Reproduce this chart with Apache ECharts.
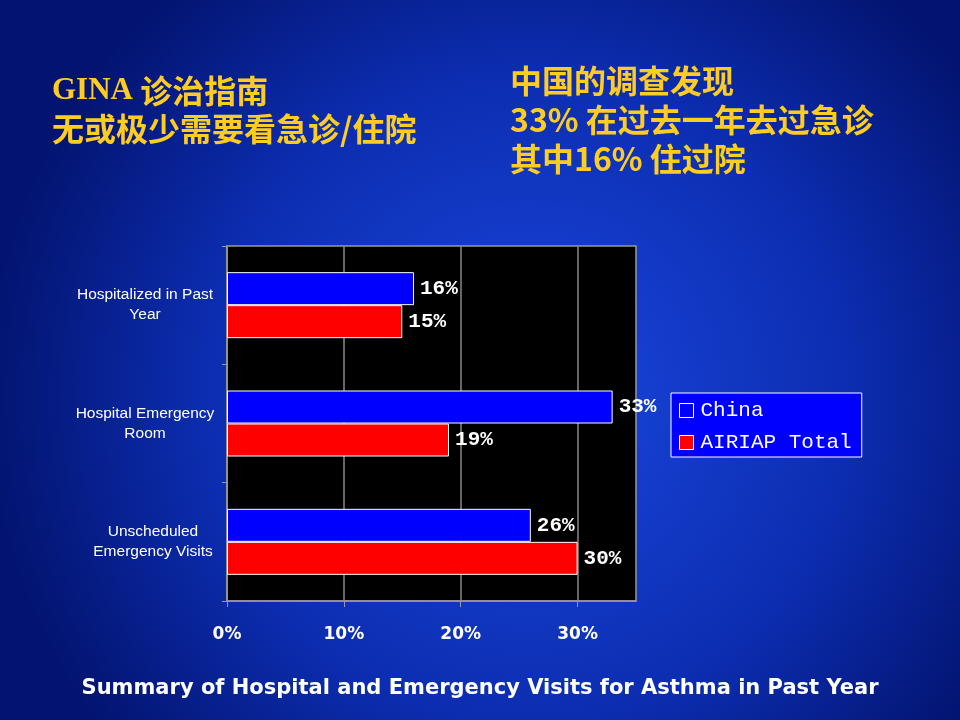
<!DOCTYPE html>
<html lang="zh">

<head>
    <meta charset="UTF-8">
    <title>Hospital and Emergency Visits</title>
    <style>
        html, body {
            margin: 0;
            padding: 0;
        }
        #box {
            width: 960px;
            height: 720px;
        }
    </style>
    <script src="https://cdn.jsdelivr.net/npm/echarts@6/dist/echarts.min.js"></script>
</head>

<body>
    <div id="box"></div>
    <script>
        // 数据
        const categories = ['Hospitalized in Past\nYear', 'Hospital Emergency\nRoom', 'Unscheduled\nEmergency Visits'];
        const seriesNames = ['China', 'AIRIAP Total'];
        const china = [16, 33, 26];
        const airiap = [15, 19, 30];
        const xTicks = [0, 10, 20, 30];

        (function () {
            const yellow = '#ffcc22';
            const cjk = '"Noto Sans CJK SC", sans-serif';

            function barSeries(name, data, color) {
                return {
                    name: name,
                    type: 'bar',
                    data: data,
                    barWidth: 33,
                    barGap: '0%',
                    itemStyle: { color: color, borderColor: '#fff', borderWidth: 1 },
                    label: {
                        show: true,
                        position: 'right',
                        distance: 6,
                        formatter: '{c}%',
                        color: '#fff',
                        fontSize: 21,
                        fontWeight: 'bold',
                        fontFamily: '"Liberation Mono", monospace'
                    }
                };
            }

            let option = {
                backgroundColor: new echarts.graphic.RadialGradient(0.55, 0.55, 0.75, [
                    { offset: 0, color: '#1a48e0' },
                    { offset: 0.6, color: '#0c2db0' },
                    { offset: 1, color: '#031470' }
                ]),
                title: [
                    {
                        text: '{en|GINA} 诊治指南\n无或极少需要看急诊/住院',
                        left: 52, top: 72,
                        padding: 0,
                        textStyle: {
                            color: yellow, fontSize: 32, fontWeight: 'bold', fontFamily: cjk, lineHeight: 38,
                            rich: {
                                en: { color: yellow, fontSize: 31, fontFamily: '"Liberation Serif", serif', lineHeight: 38 }
                            }
                        }
                    },
                    {
                        text: '中国的调查发现\n33% 在过去一年去过急诊\n其中16% 住过院',
                        left: 510, top: 61,
                        padding: 0,
                        textStyle: { color: yellow, fontSize: 32, fontWeight: 'bold', fontFamily: cjk, lineHeight: 39 }
                    },
                    {
                        text: 'Summary of Hospital and Emergency Visits for Asthma in Past Year',
                        left: 'center', top: 673,
                        textStyle: { color: '#fff', fontSize: 21, fontWeight: 'bold', fontFamily: '"DejaVu Sans", sans-serif' }
                    }
                ],
                legend: {
                    data: seriesNames,
                    orient: 'vertical',
                    left: 671, top: 393,
                    padding: [7, 10, 4, 8],
                    itemGap: 11,
                    backgroundColor: '#0000ff',
                    borderColor: '#fff',
                    borderWidth: 1,
                    borderRadius: 0,
                    icon: 'rect',
                    itemWidth: 14,
                    itemHeight: 14,
                    itemStyle: { borderColor: '#fff', borderWidth: 1 },
                    textStyle: { color: '#fff', fontSize: 21, fontFamily: '"Liberation Mono", monospace', padding: [0, 0, 0, 2] }
                },
                grid: {
                    left: 227, top: 246, width: 409, height: 355,
                    show: true,
                    backgroundColor: '#000',
                    borderColor: '#999',
                    borderWidth: 1.5
                },
                xAxis: {
                    type: 'value',
                    min: 0, max: 35, interval: 10,
                    axisLine: { show: true, lineStyle: { color: '#999', width: 1.5 } },
                    axisTick: { show: true, length: 6, lineStyle: { color: '#999' }, customValues: xTicks },
                    splitLine: { show: true, lineStyle: { color: '#888', width: 1.5 } },
                    axisLabel: {
                        margin: 25,
                        color: '#fff', fontSize: 17, fontWeight: 'bold',
                        fontFamily: '"DejaVu Sans", sans-serif',
                        customValues: xTicks,
                        formatter: '{value}%'
                    }
                },
                yAxis: {
                    type: 'category',
                    data: categories,
                    inverse: true,
                    axisLine: { show: true, lineStyle: { color: '#999', width: 1.5 } },
                    axisTick: { show: true, length: 5, lineStyle: { color: '#999' } },
                    axisLabel: {
                        margin: 82,
                        color: '#fff', fontSize: 15.5, lineHeight: 20, align: 'center',
                        fontFamily: '"Liberation Sans", Arial, sans-serif',
                        // 最后一个标签在原图中略靠右
                        formatter: function (v, i) {
                            return i === 2 ? '{s|' + v.split('\n').join('}\n{s|') + '}' : v;
                        },
                        rich: {
                            s: { color: '#fff', fontSize: 15.5, lineHeight: 20, fontFamily: '"Liberation Sans", Arial, sans-serif', padding: [0, 0, 0, 16] }
                        }
                    }
                },
                series: [
                    barSeries(seriesNames[0], china, '#0000ff'),
                    barSeries(seriesNames[1], airiap, '#ff0000')
                ]
            };

            let chart = echarts.init(box);
            chart.setOption(option);
        })();
    </script>
</body>

</html>
